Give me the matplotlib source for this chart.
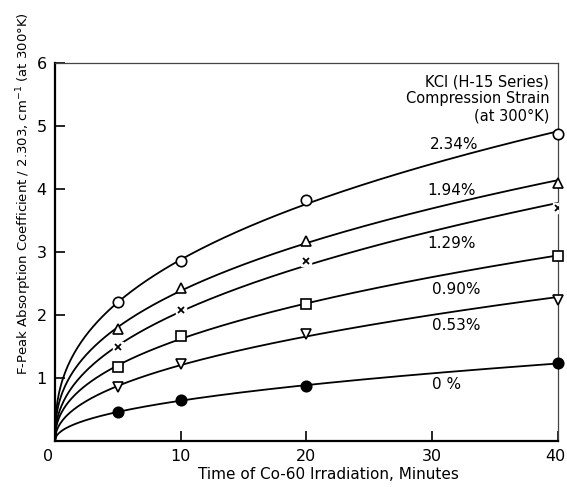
import matplotlib.pyplot as plt
import matplotlib.transforms as mtransforms
import numpy as np

# irradiation times (minutes) and F-peak absorption for each compression strain
time_min = [5, 10, 20, 40]
strains = ["2.34%", "1.94%", "1.29%", "0.90%", "0.53%", "0 %"]
absorb_234 = [2.20, 2.86, 3.83, 4.87]
absorb_194 = [1.78, 2.43, 3.17, 4.09]
absorb_129 = [1.49, 2.08, 2.86, 3.70]
absorb_090 = [1.18, 1.67, 2.17, 2.93]
absorb_053 = [0.86, 1.22, 1.70, 2.24]
absorb_000 = [0.46, 0.65, 0.87, 1.24]
series = [absorb_234, absorb_194, absorb_129, absorb_090, absorb_053, absorb_000]
markers = ["o", "^", "x", "s", "v", "o"]
filled = [False, False, False, False, False, True]
label_pos = [(29.8, 4.70), (29.6, 3.98), (29.6, 3.14), (30.0, 2.40), (30.0, 1.83), (30.0, 0.90)]

plt.rcParams['font.family'] = ['DejaVu Sans']
fig = plt.figure(figsize=(5.67, 4.87), dpi=100)
ax = fig.add_axes([0.097, 0.0945, 0.887, 0.776])

t = np.array(time_min, dtype=float)
xs = np.linspace(0.0, 40.0, 400)
for vals, m, f, lp, name in zip(series, markers, filled, label_pos, strains):
    v = np.array(vals)
    # power-law fit through the origin: log y = b log t + log a
    b, loga = np.polyfit(np.log(t), np.log(v), 1)
    ax.plot(xs, np.exp(loga) * xs ** b, color='black', lw=1.3, zorder=2)
    if m == "x":
        ax.plot(t, v, ls='none', marker='s', ms=7, mfc='white', mec='white', zorder=3)
        ax.plot(t, v, ls='none', marker='x', ms=5, mew=1.3, color='black', zorder=4)
    else:
        ax.plot(t, v, ls='none', marker=m, ms=7 if m != 'o' else 7.5,
                mfc='black' if f else 'white', mec='black', mew=1.2, zorder=4,
                clip_on=False)
    ax.text(lp[0], lp[1], name, fontsize=11, ha='left', va='center')

ax.text(39.3, 5.70, "KCl (H-15 Series)", fontsize=10.5, ha='right', va='center')
ax.text(39.3, 5.43, "Compression Strain", fontsize=10.5, ha='right', va='center')
ax.text(39.3, 5.16, "(at 300°K)", fontsize=10.5, ha='right', va='center')

ax.set_xlim(0, 40)
ax.set_ylim(0, 6)
ax.set_xticks([0, 10, 20, 30, 40])
ax.set_xticklabels(["0", "10", "20", "30", "40"])
ax.set_yticks([1, 2, 3, 4, 5, 6])
ax.set_yticklabels(["1", "2", "3", "4", "5", "6"])
ax.tick_params(direction='in', length=7, width=1.2, labelsize=11.5, pad=6)
ax.tick_params(axis='x', pad=6)
for s in ['left', 'bottom']:
    ax.spines[s].set_linewidth(1.6)
for s in ['top', 'right']:
    ax.spines[s].set_linewidth(0.9)
    ax.spines[s].set_color('#444444')

# nudge the corner labels: "0" sits left of the origin, "40" stays inside the figure
xlabels = ax.get_xticklabels()
xlabels[0].set_transform(xlabels[0].get_transform() +
                         mtransforms.ScaledTranslation(-0.07, 0, fig.dpi_scale_trans))
xlabels[-1].set_transform(xlabels[-1].get_transform() +
                          mtransforms.ScaledTranslation(-0.03, 0, fig.dpi_scale_trans))

fig.text(0.58, 0.025, "Time of Co-60 Irradiation, Minutes", fontsize=11,
         ha='center', va='center')
fig.text(0.042, 0.603, "F-Peak Absorption Coefficient / 2.303, cm$^{-1}$ (at 300°K)",
         fontsize=9.5, rotation=90, ha='center', va='center')

fig.savefig('out.png', dpi=100)
